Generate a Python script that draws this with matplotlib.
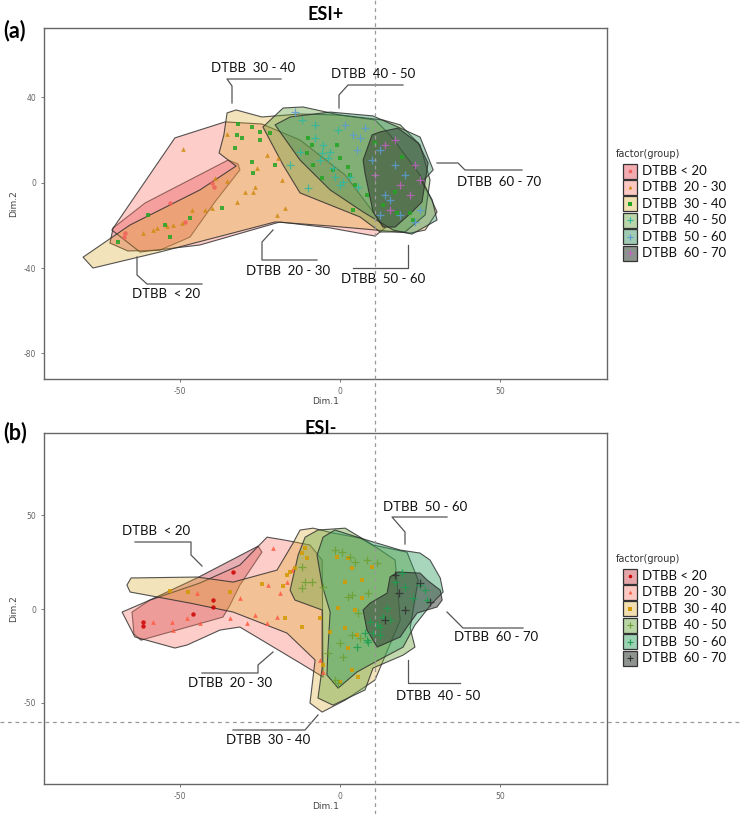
import matplotlib
matplotlib.use("Agg")
import matplotlib.pyplot as plt
from matplotlib.patches import Polygon, Rectangle
from matplotlib.lines import Line2D

plt.rcParams['font.family'] = ['Lato', 'DejaVu Sans']
plt.rcParams['axes.unicode_minus'] = False

W, H = 740, 814

# ---------------- data ----------------
groups = ['DTBB < 20', 'DTBB  20 - 30', 'DTBB  30 - 40',
          'DTBB  40 - 50', 'DTBB  50 - 60', 'DTBB  60 - 70']

x_ticks = [-50, 0, 50]
y_ticks_a = [-80, -40, 0, 40]
y_ticks_b = [-50, 0, 50]

# ---- panel (a) ESI+ : hull outlines (Dim.1, Dim.2)
hull_a_g1 = [(-71.9, -28.3), (-70.9, -21.2), (-60.9, -9.5), (-35.0, 10.6), (-31.9, 8.8),
             (-31.3, 6.0), (-39.1, -9.0), (-46.9, -25.5), (-56.3, -31.6), (-66.3, -32.0)]
hull_a_g2 = [(-71.3, -22.2), (-51.6, 21.0), (-35.9, 28.5), (-24.4, 27.5), (-12.5, 20.0),
             (1.6, 3.6), (14.1, -21.2), (10.9, -25.0), (-3.1, -21.2), (-18.8, -18.4),
             (-43.8, -29.2), (-62.5, -32.5)]
hull_a_g3 = [(-80.3, -34.9), (-65.6, -19.8), (-43.8, -3.4), (-32.5, 7.8), (-37.8, 13.9),
             (-36.3, 22.4), (-35.3, 32.7), (-32.5, 34.1), (-24.4, 30.8), (-12.5, 32.2),
             (0.0, 31.7), (10.9, 29.4), (15.6, 22.4), (25.0, 3.6), (30.3, -13.7),
             (26.6, -22.2), (21.9, -23.6), (-3.1, -20.3), (-20.3, -18.4), (-56.3, -32.5),
             (-77.2, -40.0)]
hull_a_g4 = [(-24.1, 26.1), (-17.8, 35.0), (-11.6, 35.5), (0.0, 31.7), (13.4, 29.4),
             (18.8, 27.1), (25.0, 17.7), (28.1, 1.3), (26.6, -15.1), (20.3, -23.1),
             (12.5, -23.1), (6.3, -16.1), (-12.5, -4.8), (-17.8, 8.3)]
hull_a_g5 = [(-20.3, 27.1), (-15.6, 30.8), (-3.1, 33.1), (10.3, 31.3), (18.8, 25.6),
             (25.0, 21.4), (29.1, 6.0), (25.6, 0.3), (28.8, -8.1), (30.3, -17.5),
             (22.5, -24.1), (16.6, -22.2), (7.2, -13.7), (-3.1, -3.4), (-12.5, 10.6)]
hull_a_g6 = [(7.2, 10.6), (10.0, 22.4), (12.5, 23.8), (18.1, 25.6), (24.4, 18.6),
             (27.5, 9.2), (25.6, -9.0), (22.5, -13.7), (17.2, -20.8), (13.4, -20.8),
             (10.3, -13.7), (7.8, 4.5)]

# ---- panel (a) points
pts_a_g1 = [(-53.1, -9.5), (-40.0, -0.1), (-39.4, -2.0), (-48.4, -18.4), (-67.2, -23.6),
            (-67.5, -25.5)]
pts_a_g2 = [(-49.1, 15.8), (-39.1, 2.2), (-35.3, 0.8), (-26.6, -2.0), (-27.2, -4.4),
            (-29.7, -4.4), (-46.3, -12.8), (-42.2, -12.8), (-40.0, -11.9), (-49.4, -18.9),
            (-52.2, -19.8), (-54.1, -20.3), (-57.2, -21.2), (-58.4, -22.2), (-61.6, -23.6),
            (-35.3, 22.8), (-17.2, -11.9), (-22.8, 13.0), (-25.9, 6.9), (-32.2, -9.0),
            (-18.1, 1.3), (-19.4, 11.6), (-19.7, -15.1)]
pts_a_g3 = [(-31.9, 27.5), (-27.5, 26.1), (-25.0, 23.8), (-32.2, 22.4), (-30.6, 21.0),
            (-32.8, 16.3), (-25.0, 20.0), (-27.5, 9.7), (-27.2, 4.5), (-36.9, -11.9),
            (-46.9, -16.5), (-54.7, -19.8), (-53.1, -25.5), (-60.0, -15.1), (-69.4, -27.8),
            (-20.3, 8.3), (-21.9, 23.3), (-10.3, 13.9), (-8.8, 17.7), (-8.4, 8.3),
            (0.0, 11.6), (2.5, 7.4), (4.7, -1.1), (-0.9, 17.7), (-5.6, 2.2), (3.1, 3.6),
            (4.1, -12.8), (10.9, 18.6), (19.4, 12.0), (17.2, -4.4), (13.4, -10.5),
            (17.8, -14.2), (22.8, -17.5), (21.9, -14.2), (8.4, -5.8), (-10.0, 21.0),
            (-2.2, 6.0)]
pts_a_g4 = [(-11.9, 29.4), (-7.8, 21.0), (-5.3, 17.7), (-3.1, 14.4), (-0.6, 24.7),
            (-5.6, 13.9), (-3.8, 11.6), (-10.0, -2.5), (-1.6, 2.7), (0.9, 0.3), (3.1, 2.7),
            (0.0, -1.1), (5.6, -2.0), (-7.8, 27.1), (-6.3, 10.6), (-2.2, 6.9), (-15.6, 8.3),
            (-12.5, 14.4)]
pts_a_g5 = [(4.1, 22.4), (6.3, 21.0), (5.3, 15.3), (1.6, 27.1), (7.8, 25.6), (10.0, 10.6),
            (12.5, 15.3), (17.2, 8.3), (20.3, 3.6), (15.6, -8.1), (18.8, -15.1),
            (23.4, -18.4), (25.0, -12.9), (12.5, -15.1), (14.1, -5.8), (-14.1, 33.1)]
pts_a_g6 = [(14.1, 17.7), (18.8, -1.1), (21.9, -5.8), (10.9, 3.6), (17.2, 20.0),
            (23.4, 8.3), (15.6, -12.9), (25.0, 1.3)]

# ---- panel (b) ESI- : hull outlines
hull_b_g1 = [(-65.0, -1.6), (-64.4, -13.3), (-62.2, -16.6), (-36.6, -4.3), (-34.4, 2.1),
             (-31.3, 12.8), (-24.4, 30.4), (-25.6, 33.6), (-44.7, 16.6), (-59.4, 4.8)]
hull_b_g2 = [(-68.1, -1.6), (-59.4, 4.8), (-43.8, 13.9), (-31.3, 23.5), (-22.8, 38.4),
             (-17.2, 36.8), (-9.4, 34.2), (-5.6, 26.2), (-5.3, -36.3), (-12.5, -28.8),
             (-31.3, -9.6), (-37.5, -11.2), (-47.8, -19.2), (-51.6, -20.8), (-64.1, -14.9)]
hull_b_g3 = [(-66.6, 12.8), (-65.3, 16.6), (-44.7, 17.1), (-33.4, 14.4), (-19.7, 20.8),
             (-14.7, 35.2), (-12.5, 42.2), (-8.4, 43.2), (-2.2, 40.6), (6.3, 37.9),
             (11.6, 32.6), (17.2, 26.2), (18.8, -5.9), (10.9, -37.9), (1.6, -48.6),
             (-5.6, -55.0), (-9.4, -50.2), (-7.8, -27.2), (-16.6, -12.8), (-33.4, -1.6),
             (-46.9, 3.2), (-65.6, 9.1)]
hull_b_g4 = [(-15.6, 10.1), (-13.1, 28.8), (-10.9, 38.4), (-6.9, 42.2), (1.6, 43.2),
             (10.3, 34.2), (20.9, 30.4), (24.4, 15.5), (21.9, -10.1), (23.4, -20.3),
             (19.7, -24.6), (10.3, -31.5), (7.8, -43.2), (-2.2, -51.3), (-6.9, -47.5),
             (-5.6, -31.5), (-5.6, -0.5), (-14.1, 4.8)]
hull_b_g5 = [(-5.3, 38.4), (-1.6, 42.2), (6.3, 37.9), (18.8, 31.5), (25.0, 29.9),
             (28.1, 26.2), (31.3, 16.6), (32.2, 9.1), (28.8, 3.2), (23.4, -8.5),
             (19.7, -20.3), (10.9, -28.3), (5.3, -33.6), (-0.6, -42.2), (-4.1, -35.2),
             (-3.8, -21.9), (-3.1, -1.6), (-5.6, 12.8), (-7.2, 28.8)]
hull_b_g6 = [(7.2, -0.5), (8.4, -11.2), (11.6, -20.3), (18.8, -14.9), (20.9, -9.6),
             (24.1, -2.1), (30.3, 1.1), (31.9, 4.8), (31.3, 10.1), (27.2, 15.5),
             (25.0, 19.2), (18.1, 19.8), (15.6, 17.1), (14.7, 8.5), (9.4, 3.2)]

# ---- panel (b) points
pts_b_g1 = [(-33.4, 19.8), (-61.6, -6.9), (-61.6, -9.1), (-45.9, -2.7), (-39.7, 4.8),
            (-39.7, 1.1)]
pts_b_g2 = [(-20.9, 32.6), (-58.4, -6.9), (-52.5, -6.9), (-47.8, -4.8), (-44.7, 8.5),
            (-34.4, -4.8), (-29.1, -7.5), (-26.6, -3.2), (-22.5, 12.8), (-19.7, -4.3),
            (-22.8, -7.5), (-16.6, 14.4), (-15.0, 20.8), (-31.3, 5.9), (-43.8, -7.5),
            (-52.2, -11.2), (-6.3, -27.2), (-5.3, -33.6), (-18.8, 8.5)]
pts_b_g3 = [(-53.1, 9.6), (-47.5, 9.1), (-34.4, 9.1), (-24.4, 13.3), (-17.8, 12.3),
            (-16.6, 18.2), (-11.9, 29.9), (-10.9, 32.6), (-15.6, 19.8), (-17.2, -4.8),
            (-11.9, -9.6), (-6.3, -4.8), (-14.1, 21.9), (-10.3, 27.2), (-0.9, 27.8),
            (2.5, 27.2), (3.8, 21.9), (10.0, 22.4), (6.9, 15.5), (1.6, 14.4), (6.9, 5.9),
            (-0.6, 0.5), (4.7, -0.5), (1.6, -10.1), (-3.1, -12.3), (5.3, -13.9),
            (2.5, -20.8), (3.8, -32.6), (5.6, -36.3), (0.0, -39.0), (-5.3, -29.9)]
pts_b_g4 = [(-1.6, 31.5), (0.6, 30.4), (3.1, 27.8), (4.7, 25.1), (8.4, 26.2), (11.6, 24.6),
            (-11.9, 11.2), (-8.8, 14.4), (-5.3, 11.7), (2.5, 6.4), (3.8, 7.5), (8.8, 8.5),
            (5.6, -2.1), (3.8, -13.9), (6.3, -15.5), (0.0, -18.2), (0.9, -25.6),
            (-1.6, -37.9), (-0.6, -39.5), (-3.8, -23.5), (-11.9, 22.4), (-10.9, 14.4)]
pts_b_g5 = [(17.2, 14.4), (20.3, 11.7), (22.8, 5.9), (26.6, 10.1), (27.2, 4.8),
            (25.0, 12.8), (19.4, 19.2), (13.4, -4.3), (15.6, -5.9), (12.5, -9.6),
            (10.3, -12.8), (8.4, -16.6), (5.3, -20.3), (14.7, 0.5), (9.4, -6.9),
            (7.8, -12.8), (8.8, -17.6), (12.5, -13.9), (11.6, -8.5)]
pts_b_g6 = [(18.4, 8.5), (25.0, 13.9), (28.1, 3.7), (17.2, 18.2), (20.3, -0.5),
            (14.1, -5.9)]

hulls_a = [hull_a_g1, hull_a_g2, hull_a_g3, hull_a_g4, hull_a_g5, hull_a_g6]
pts_a = [pts_a_g1, pts_a_g2, pts_a_g3, pts_a_g4, pts_a_g5, pts_a_g6]
hulls_b = [hull_b_g1, hull_b_g2, hull_b_g3, hull_b_g4, hull_b_g5, hull_b_g6]
pts_b = [pts_b_g1, pts_b_g2, pts_b_g3, pts_b_g4, pts_b_g5, pts_b_g6]

# ---------------- styles ----------------
fill_a = ['#e0505a', '#fa8072', '#daa520', '#5f9e3a', '#2e8b57', '#2e3a2e']
alpha_a = [0.42, 0.38, 0.30, 0.38, 0.40, 0.50]
pt_col_a = ['#f0605a', '#d08a10', '#22a522', '#30b8a0', '#5b9bd5', '#c060c0']
fill_b = ['#c8404a', '#fa8072', '#daa520', '#6ea640', '#2e9e60', '#333a33']
alpha_b = [0.42, 0.38, 0.30, 0.42, 0.42, 0.50]
pt_col_b = ['#cc0000', '#ff5a40', '#d49a00', '#6da030', '#1e9e50', '#303030']
markers = ['o', '^', 's', '+', '+', '+']
msizes = [3.2, 3.4, 3.0, 5.5, 5.5, 5.5]

fig = plt.figure(figsize=(W / 100, H / 100), dpi=100)


def fp(px, py):
    return (px / W, 1 - py / H)


def make_axes(top, bottom, ylim, yticks):
    ax = fig.add_axes([44 / W, 1 - bottom / H, (607 - 44) / W, (bottom - top) / H])
    ax.set_xlim(-92.5, 83.4)
    ax.set_ylim(*ylim)
    ax.set_xticks(x_ticks)
    ax.set_yticks(yticks)
    ax.tick_params(labelsize=5.5, labelcolor='#666666', color='#666666', length=2, width=0.6)
    for tl in ax.get_xticklabels() + ax.get_yticklabels():
        tl.set_family('DejaVu Sans')
    for s in ax.spines.values():
        s.set_color('#666666')
        s.set_linewidth(1.0)
    ax.set_xlabel('Dim.1', fontsize=6.5, color='#444444', labelpad=1, family='DejaVu Sans')
    ax.set_ylabel('Dim.2', fontsize=6.5, color='#444444', labelpad=4, family='DejaVu Sans')
    return ax


def draw_panel(ax, hulls, pts, fills, alphas, pcols):
    for i, h in enumerate(hulls):
        ax.add_patch(Polygon(h, closed=True, facecolor=fills[i], alpha=alphas[i],
                             edgecolor='none', zorder=2 + i * 0.1))
        ax.add_patch(Polygon(h, closed=True, facecolor='none', edgecolor='#2a2a2a',
                             linewidth=0.8, alpha=0.8, joinstyle='round', zorder=2.05 + i * 0.1))
    for i, p in enumerate(pts):
        xs = [q[0] for q in p]
        ys = [q[1] for q in p]
        ax.plot(xs, ys, linestyle='none', marker=markers[i], markersize=msizes[i],
                color=pcols[i], markeredgewidth=0.9 if markers[i] == '+' else 0,
                alpha=0.85, zorder=4)


ax_a = make_axes(28, 379, (-92.0, 72.5), y_ticks_a)
draw_panel(ax_a, hulls_a, pts_a, fill_a, alpha_a, pt_col_a)
ax_b = make_axes(433, 784, (-93.4, 94.0), y_ticks_b)
draw_panel(ax_b, hulls_b, pts_b, fill_b, alpha_b, pt_col_b)

# titles / panel letters
fig.text(*fp(326, 15), 'ESI+', ha='center', va='center', fontsize=13, fontweight='bold')
fig.text(*fp(3, 31), '(a)', ha='left', va='center', fontsize=15.5, fontweight='bold')
fig.text(*fp(321, 428), 'ESI-', ha='center', va='center', fontsize=13, fontweight='bold')
fig.text(*fp(3, 433), '(b)', ha='left', va='center', fontsize=15.5, fontweight='bold')

# annotations with leader lines (figure pixel layout)
ann = [
    ('DTBB  30 - 40', (253, 68), [(281, 79), (227, 79), (232, 86), (232, 103)]),
    ('DTBB  40 - 50', (373, 74), [(403, 85), (348, 85), (339, 95), (339, 108)]),
    ('DTBB  60 - 70', (499, 182), [(437, 163), (458, 163), (465, 170), (522, 170)]),
    ('DTBB  50 - 60', (383, 279), [(408, 245), (408, 268), (353, 268)]),
    ('DTBB  20 - 30', (288, 271), [(273, 230), (262, 242), (262, 260), (317, 260)]),
    ('DTBB  < 20', (166, 294), [(137, 257), (137, 275), (147, 284), (202, 284)]),
    ('DTBB  < 20', (156, 531), [(135, 542), (191, 542), (191, 555), (202, 566)]),
    ('DTBB  20 - 30', (230, 683), [(202, 673), (258, 673), (258, 665), (273, 652)]),
    ('DTBB  30 - 40', (268, 740), [(233, 730), (305, 730), (318, 715)]),
    ('DTBB  50 - 60', (425, 507), [(447, 517), (392, 517), (405, 532), (405, 544)]),
    ('DTBB  60 - 70', (496, 637), [(447, 612), (463, 628), (523, 628)]),
    ('DTBB  40 - 50', (438, 696), [(408, 660), (408, 683), (460, 683)]),
]
for txt, (tx, ty), path in ann:
    fig.text(*fp(tx, ty), txt, ha='center', va='center', fontsize=9.5, color='#111111')
    xs = [fp(*q)[0] for q in path]
    ys = [fp(*q)[1] for q in path]
    fig.add_artist(Line2D(xs, ys, color='#555555', linewidth=0.9))


# legends
def legend(top_px, fills, alphas, pcols):
    fig.text(*fp(616, top_px), 'factor(group)', ha='left', va='center', fontsize=7,
             color='#333333', family='DejaVu Sans')
    for i, g in enumerate(groups):
        cy = top_px + 17 + i * 16.4
        x0, y0 = fp(623, cy + 7.5)
        fig.add_artist(Rectangle((x0, y0), 14 / W, 15 / H, facecolor=fills[i],
                                 alpha=min(alphas[i] + 0.05, 1), edgecolor='none'))
        fig.add_artist(Rectangle((x0, y0), 14 / W, 15 / H, facecolor='none', edgecolor='#333333',
                                 linewidth=0.9))
        mx, my = fp(630, cy)
        fig.add_artist(Line2D([mx], [my], marker=markers[i], color=pcols[i],
                              markersize=msizes[i] * 0.8, markeredgewidth=0.8 if markers[i] == '+' else 0,
                              linestyle='none'))
        fig.text(*fp(642, cy), g, ha='left', va='center', fontsize=9.5, color='#111111')


legend(154, fill_a, alpha_a, pt_col_a)
legend(559, fill_b, alpha_b, pt_col_b)

# dashed guide lines spanning the whole figure
fig.add_artist(Line2D([375 / W, 375 / W], [0, 1], color='#999999', linewidth=0.9,
                      linestyle=(0, (3, 3))))
fig.add_artist(Line2D([0, 1], [1 - 722 / H, 1 - 722 / H], color='#999999', linewidth=0.9,
                      linestyle=(0, (3, 3))))

fig.savefig('out.png', dpi=100)
